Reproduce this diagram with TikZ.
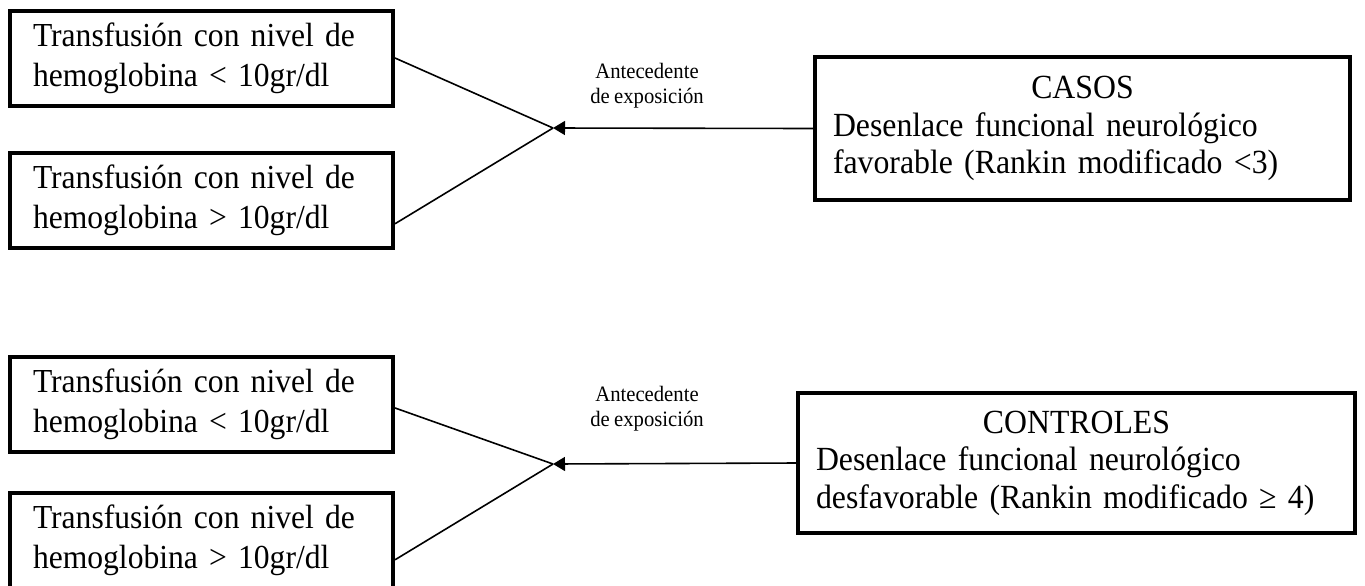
\documentclass[tikz,border=0pt]{standalone}
\usepackage{fontspec}
\setmainfont{Liberation Serif}[FakeStretch=0.94,WordSpace=0.85]
\usetikzlibrary{arrows.meta,calc}
\begin{document}
\begin{tikzpicture}[x=0.5pt,y=-0.5pt,
  lbox/.style={draw, line width=2pt, inner xsep=11.5pt, inner ysep=0pt,
    text width=168.5pt, minimum height=47.5pt, align=left,
    font=\fontsize{16.8}{20}\selectfont},
  rbox/.style={draw, line width=2pt, inner xsep=9pt, inner ysep=0pt,
    align=left, font=\fontsize{16.9}{18.8}\selectfont},
  lab/.style={align=center, inner sep=0pt, font=\fontsize{11}{12.5}\selectfont},
  conn/.style={line width=0.8pt},
  arr/.style={line width=0.8pt, -{Triangle[length=6pt,width=7pt]}}
]
\useasboundingbox (0,0) rectangle (1365,585);

% ---------- top group ----------
\node[lbox] (a1) at (201.5,58) {Transfusión con nivel de\\hemoglobina < 10gr/dl};
\node[lbox] (a2) at (201.5,200) {Transfusión con nivel de\\hemoglobina > 10gr/dl};
\coordinate (m1) at (553,128);
\node[rbox, text width=249.5pt, minimum height=71.5pt] (casos) at (1082.5,128.5)
  {\makebox[249.5pt]{CASOS}\\
   Desenlace funcional neurológico\\ favorable (Rankin modificado <3)};
\node[lab] (l1) at (647,86) {Antecedente\\de exposición};
\draw[conn] ($(a1.north east)!0.5!(a1.south east)$) -- (m1);
\draw[conn] ($(a2.north east)!0.74!(a2.south east)$) -- (m1);
\draw[arr] (casos.west) -- (m1);

% ---------- bottom group ----------
\node[lbox] (b1) at (201.5,404) {Transfusión con nivel de\\hemoglobina < 10gr/dl};
\node[lbox] (b2) at (201.5,540) {Transfusión con nivel de\\hemoglobina > 10gr/dl};
\coordinate (m2) at (553,464);
\node[rbox, text width=260.5pt, minimum height=70pt] (ctrl) at (1076.5,463)
  {\makebox[260.5pt]{CONTROLES}\\
   Desenlace funcional neurológico\\ desfavorable (Rankin modificado ≥ 4)};
\node[lab] (l2) at (647,409) {Antecedente\\de exposición};
\draw[conn] ($(b1.north east)!0.54!(b1.south east)$) -- (m2);
\draw[conn] ($(b2.north east)!0.70!(b2.south east)$) -- (m2);
\draw[arr] (ctrl.west) -- (m2);
\end{tikzpicture}
\end{document}
